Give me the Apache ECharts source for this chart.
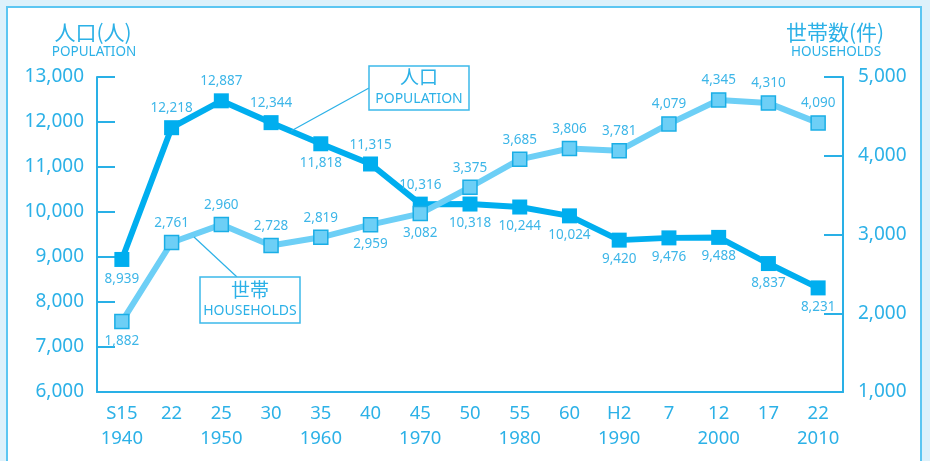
<!DOCTYPE html>
<html>
<head>
<meta charset="utf-8">
<script src="https://cdn.jsdelivr.net/npm/echarts@6/dist/echarts.min.js"></script>
<style>
  html, body { margin: 0; padding: 0; background: #ddf1fb; }
  #chart { width: 930px; height: 461px; }
</style>
</head>
<body>
<div id="chart"></div>
<script>
// 年次 (和暦 / 西暦)
var years = ['S15\n1940', '22', '25\n1950', '30', '35\n1960', '40', '45\n1970', '50',
  '55\n1980', '60', 'H2\n1990', '7', '12\n2000', '17', '22\n2010']

// 人口(人)
var population = [8939, 12218, 12887, 12344, 11818, 11315, 10316, 10318,
  10244, 10024, 9420, 9476, 9488, 8837, 8231]

// 世帯数(件)
var households = [1882, 2761, 2960, 2728, 2819, 2959, 3082, 3375,
  3685, 3806, 3781, 4079, 4345, 4310, 4090]

// where each value label sits
var popLabelPos = ['bottom', 'top', 'top', 'top', 'bottom', 'top', 'top', 'bottom',
  'bottom', 'bottom', 'bottom', 'bottom', 'bottom', 'bottom', 'bottom']
var hhLabelPos = ['bottom', 'top', 'top', 'top', 'top', 'bottom', 'bottom', 'top',
  'top', 'top', 'top', 'top', 'top', 'top', 'top']

var txt = '#2cb1e7'
var font = '"Noto Sans", "Noto Sans CJK JP", sans-serif'
var jp = '"Noto Sans CJK JP", sans-serif'

function fmt(v) { return Number(v).toLocaleString('en-US') }

function withLabels(vals, pos) {
  return vals.map(function (v, i) {
    return { value: v, label: { position: pos[i] } }
  })
}

var chart = echarts.init(document.getElementById('chart'))

chart.setOption({
  backgroundColor: '#ddf1fb',
  animation: false,
  grid: { left: 97, right: 87, top: 77, bottom: 69 },
  graphic: [
    {
      type: 'rect', z: -100, silent: true,
      shape: { x: 7, y: 7, width: 914, height: 480 },
      style: { fill: '#fff', stroke: '#5cc6f2', lineWidth: 2 }
    },
    { type: 'text', x: 93, y: 32, style: { text: '人口(人)', font: '21px ' + jp, fill: txt, align: 'center', verticalAlign: 'middle' } },
    { type: 'text', x: 94, y: 52, style: { text: 'POPULATION', font: '13.5px ' + font, fill: txt, align: 'center', verticalAlign: 'middle' } },
    { type: 'text', x: 835, y: 32, style: { text: '世帯数(件)', font: '21px ' + jp, fill: txt, align: 'center', verticalAlign: 'middle' } },
    { type: 'text', x: 836, y: 52, style: { text: 'HOUSEHOLDS', font: '13.5px ' + font, fill: txt, align: 'center', verticalAlign: 'middle' } },
    // callout: 人口
    {
      type: 'line', z: 10, silent: true,
      shape: { x1: 369, y1: 88, x2: 291, y2: 131 },
      style: { stroke: '#2cb1e7', lineWidth: 1.2 }
    },
    {
      type: 'rect', z: 10, silent: true,
      shape: { x: 369, y: 66, width: 100, height: 44 },
      style: { fill: '#fff', stroke: '#3cb9ea', lineWidth: 1.5 }
    },
    { type: 'text', z: 11, x: 419, y: 77, style: { text: '人口', font: '19px ' + jp, fill: txt, align: 'center', verticalAlign: 'middle' } },
    { type: 'text', z: 11, x: 419, y: 99, style: { text: 'POPULATION', font: '14px ' + font, fill: txt, align: 'center', verticalAlign: 'middle' } },
    // callout: 世帯
    {
      type: 'line', z: 10, silent: true,
      shape: { x1: 194, y1: 237, x2: 237, y2: 277 },
      style: { stroke: '#2cb1e7', lineWidth: 1.2 }
    },
    {
      type: 'rect', z: 10, silent: true,
      shape: { x: 200, y: 277, width: 100, height: 46 },
      style: { fill: '#fff', stroke: '#3cb9ea', lineWidth: 1.5 }
    },
    { type: 'text', z: 11, x: 250, y: 290, style: { text: '世帯', font: '19px ' + jp, fill: txt, align: 'center', verticalAlign: 'middle' } },
    { type: 'text', z: 11, x: 250, y: 311, style: { text: 'HOUSEHOLDS', font: '14px ' + font, fill: txt, align: 'center', verticalAlign: 'middle' } }
  ],
  xAxis: {
    type: 'category',
    data: years,
    boundaryGap: true,
    axisLine: { lineStyle: { color: '#29b0e6', width: 2 } },
    axisTick: { alignWithLabel: true, inside: true, length: 8, lineStyle: { color: '#29b0e6', width: 2 } },
    axisLabel: { color: txt, fontSize: 18.5, fontFamily: font, lineHeight: 25, margin: 9, interval: 0 }
  },
  yAxis: [
    {
      type: 'value', min: 6000, max: 13000, interval: 1000, position: 'left',
      splitLine: { show: false },
      axisLine: { show: true, lineStyle: { color: '#29b0e6', width: 2 } },
      axisTick: { show: true, inside: true, length: 18, lineStyle: { color: '#29b0e6', width: 2 } },
      axisLabel: { color: txt, fontSize: 19, fontFamily: font, margin: 13, formatter: fmt }
    },
    {
      type: 'value', min: 1000, max: 5000, interval: 1000, position: 'right',
      splitLine: { show: false },
      axisLine: { show: true, lineStyle: { color: '#29b0e6', width: 2 } },
      axisTick: { show: true, inside: true, length: 19, lineStyle: { color: '#29b0e6', width: 2 } },
      axisLabel: { color: txt, fontSize: 19, fontFamily: font, margin: 15, formatter: fmt }
    },
    // the drawing in the source places the lines on these scales
    { type: 'value', min: 5640, max: 13480, show: false },
    { type: 'value', min: 1100, max: 4600, show: false }
  ],
  series: [
    {
      name: '人口',
      type: 'line',
      yAxisIndex: 2,
      data: withLabels(population, popLabelPos),
      symbol: 'rect',
      symbolSize: 15,
      lineStyle: { color: '#00aeef', width: 6 },
      itemStyle: { color: '#00aeef' },
      label: {
        show: true, distance: 5, color: '#3db6e8', fontSize: 13.5, fontFamily: font,
        formatter: function (p) { return fmt(p.value) }
      },
      z: 3
    },
    {
      name: '世帯',
      type: 'line',
      yAxisIndex: 3,
      data: withLabels(households, hhLabelPos),
      symbol: 'rect',
      symbolSize: 14,
      lineStyle: { color: '#6dcff6', width: 6 },
      itemStyle: { color: '#6dcff6', borderColor: '#1aaee6', borderWidth: 1.5 },
      label: {
        show: true, distance: 5, color: '#3db6e8', fontSize: 13.5, fontFamily: font,
        formatter: function (p) { return fmt(p.value) }
      },
      z: 4
    }
  ]
})
</script>
</body>
</html>
